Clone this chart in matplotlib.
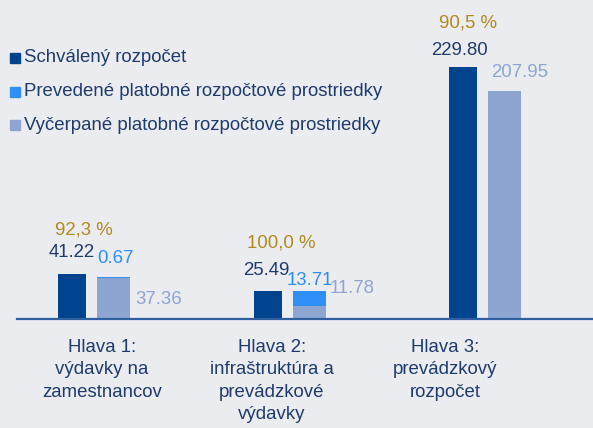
import matplotlib
matplotlib.use("Agg")
import matplotlib.pyplot as plt
from matplotlib.patches import Rectangle
import numpy as np

plt.rcParams['font.family'] = ['Liberation Sans', 'DejaVu Sans']

# ---- data ----
categories = ["Hlava 1:\nvýdavky na\nzamestnancov",
              "Hlava 2:\ninfraštruktúra a\nprevádzkové\nvýdavky",
              "Hlava 3:\nprevádzkový\nrozpočet"]
series_names = ["Schválený rozpočet",
                "Prevedené platobné rozpočtové prostriedky",
                "Vyčerpané platobné rozpočtové prostriedky"]
schvaleny = [41.22, 25.49, 229.80]
prevedene = [0.67, 13.71, 0.0]
vycerpane = [37.36, 11.78, 207.95]
percent_labels = ["92,3 %", "100,0 %", "90,5 %"]

# ---- styles / layout ----
W, H = 593, 428
bg = "#ebecf0"
c_dark = "#00438f"
c_bright = "#2e8ff7"
c_light = "#8ea5d2"
c_text = "#1f3b6b"
c_gold = "#b08a1e"
c_axis = "#3060a0"
fs = 13.4

fig = plt.figure(figsize=(W / 100, H / 100), dpi=100, facecolor=bg)
ax_left = 17 / W
ax_bottom = (H - 319) / H
ax = fig.add_axes([ax_left, ax_bottom, 1 - ax_left, 1 - ax_bottom])
ax.set_facecolor(bg)

unit = 195.5  # px per category
x = np.arange(len(categories))
w_dark = 28 / unit
w_light = 33 / unit
off_light = 41.5 / unit
ax.set_xlim(-55 / unit, -55 / unit + (W - 17) / unit)
ax.set_ylim(0, 319 / 1.097)

ax.bar(x, schvaleny, width=w_dark, color=c_dark, zorder=2)
ax.bar(x + off_light, vycerpane, width=w_light, color=c_light, zorder=2)
ax.bar(x + off_light, prevedene, width=w_light, bottom=vycerpane,
       color=c_bright, zorder=2)

for s in ["top", "left", "right"]:
    ax.spines[s].set_visible(False)
ax.spines["bottom"].set_color(c_axis)
ax.spines["bottom"].set_linewidth(1.6)
ax.set_xticks([])
ax.set_yticks([])

# value labels (offsets in pixels)
dark_off = [(0, 21), (-1, 21), (-3, 16)]
pct_off = [(12, 44), (14, 48), (5, 44)]
bright_off = [(2, 19), (1, 11), None]
light_off = [(45, -22), (43, 3), (15, 18)]

px = 72 / 100  # points per pixel

def lab(xv, yv, txt, off, color):
    ax.annotate(txt, xy=(xv, yv), xytext=(off[0] * px, off[1] * px),
                textcoords="offset points", ha="center", va="center",
                color=color, fontsize=fs, annotation_clip=False)

for i in range(len(categories)):
    lab(x[i], schvaleny[i], f"{schvaleny[i]:.2f}", dark_off[i], c_text)
    lab(x[i], schvaleny[i], percent_labels[i], pct_off[i], c_gold)
    top = vycerpane[i] + prevedene[i]
    if prevedene[i] > 0:
        lab(x[i] + off_light, top, f"{prevedene[i]:.2f}", bright_off[i], c_bright)
    lab(x[i] + off_light, top, f"{vycerpane[i]:.2f}", light_off[i], c_light)

# category labels
label_cx = [102, 272, 445]
for cx, txt in zip(label_cx, categories):
    fig.text(cx / W, 1 - 339 / H, txt, ha="center", va="top",
             fontsize=fs, color=c_text, linespacing=1.42)

# legend
leg_y = [58, 92, 125]
leg_cols = [c_dark, c_bright, c_light]
for yy, col, name in zip(leg_y, leg_cols, series_names):
    fig.patches.append(Rectangle((10 / W, 1 - (yy + 5) / H), 10 / W, 10 / H,
                                 transform=fig.transFigure, color=col))
    fig.text(24 / W, 1 - yy / H, name, ha="left", va="center",
             fontsize=fs, color=c_text)

fig.savefig("out.png", dpi=100, facecolor=bg)
